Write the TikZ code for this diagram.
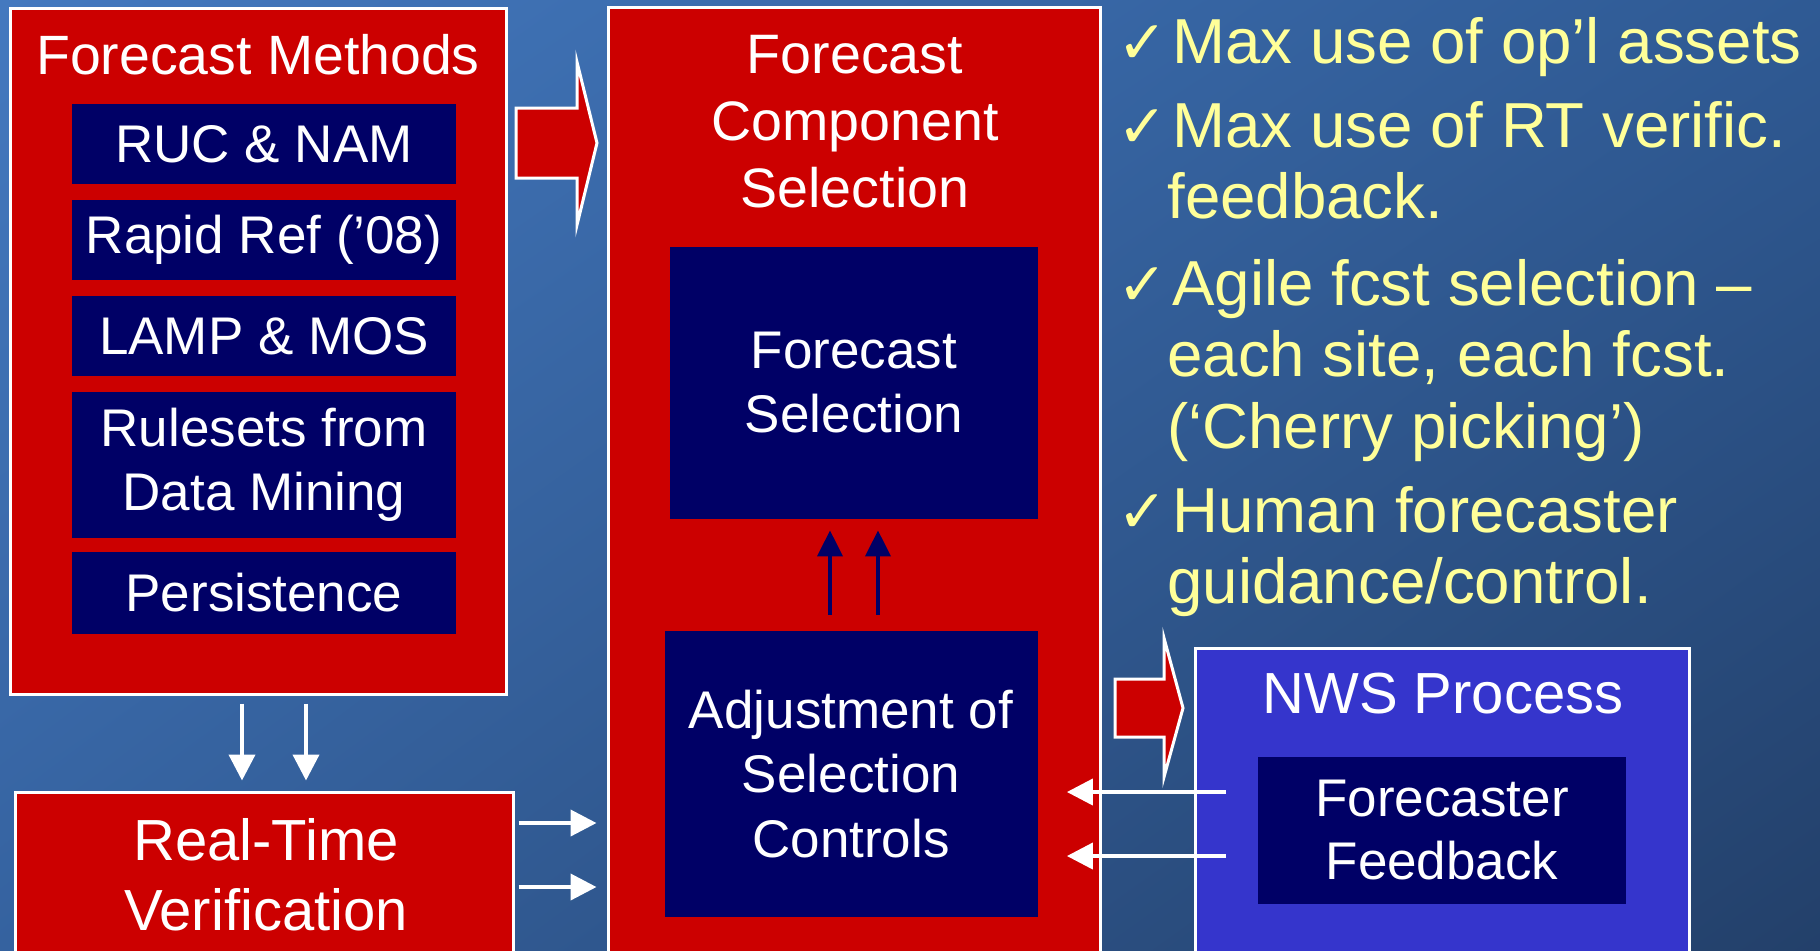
\documentclass[tikz,border=0pt]{standalone}
\usepackage{fontspec}
\setmainfont{Liberation Sans}
\newfontfamily\dejavu{DejaVu Sans}
\usetikzlibrary{arrows.meta,calc,shadings}
\definecolor{bgUL}{HTML}{4479BF}
\definecolor{bgUR}{HTML}{2F5A94}
\definecolor{bgLL}{HTML}{35629F}
\definecolor{bgLR}{HTML}{23406A}
\definecolor{boxred}{HTML}{CC0000}
\definecolor{navy}{HTML}{000066}
\definecolor{nwsblue}{HTML}{3535CC}
\definecolor{pale}{HTML}{FFFF99}
\newcommand{\fsz}[2]{\fontsize{#1}{#2}\selectfont}
\newcommand{\chk}{\makebox[24pt][r]{\dejavu\fsz{30}{30}✓\hspace{2.5pt}}}
\begin{document}
\begin{tikzpicture}[x=0.5pt,y=-0.5pt,
  outerbox/.style={draw=white,line width=1.5pt,fill=boxred,inner sep=0pt},
  nwsbox/.style={draw=white,line width=1.5pt,fill=nwsblue,inner sep=0pt},
  navybox/.style={fill=navy,inner sep=0pt,text=white,align=center},
  boxlabel/.style={text=white,align=center,inner sep=0pt},
  warr/.style={draw=white,line width=2pt,-{Triangle[length=13pt,width=13pt]}},
  narr/.style={draw=navy,line width=2pt,-{Triangle[length=13pt,width=12.5pt]}},
  blockarr/.style={draw=white,line width=1.5pt,fill=boxred,line join=miter},
  bullet/.style={text=pale,anchor=base west,inner sep=0pt,font=\fsz{31.8}{35.8}}
]
\clip (0,0) rectangle (1820,950);
\shade[upper left=bgUL,upper right=bgUR,lower left=bgLL,lower right=bgLR] (0,0) rectangle (1820,950);

% ---- Forecast Methods column
\node[outerbox,minimum width=248pt,minimum height=343pt] (fm) at (258,351) {};
\node[boxlabel,font=\fsz{27.7}{30}] (fmt) at (258,55) {Forecast Methods};
\node[navybox,minimum width=192pt,minimum height=40pt,font=\fsz{26.5}{32}] (ruc) at (264,144) {RUC \& NAM};
\node[navybox,minimum width=192pt,minimum height=40pt,font=\fsz{26.5}{32}] (rr) at (264,240) {Rapid Ref (’08)};
\node[navybox,minimum width=192pt,minimum height=40pt,font=\fsz{26.5}{32}] (lamp) at (264,336) {LAMP \& MOS};
\node[navybox,minimum width=192pt,minimum height=73pt,font=\fsz{26.5}{32}] (rule) at (264,465) {Rulesets from\\Data Mining};
\node[navybox,minimum width=192pt,minimum height=41pt,font=\fsz{26.5}{32}] (pers) at (264,593) {Persistence};

% ---- Real-Time Verification
\node[outerbox,minimum width=249pt,minimum height=90pt] (rt) at (264,882) {};
\node[boxlabel,font=\fsz{29}{35}] (rtt) at (266,875) {Real-Time\\Verification};

% ---- Forecast Component Selection
\node[outerbox,minimum width=246pt,minimum height=485pt] (fcs) at (854,492) {};
\node[boxlabel,font=\fsz{27.8}{33.5}] (fcst) at (855,122) {Forecast\\Component\\Selection};
\node[navybox,minimum width=184pt,minimum height=136pt,font=\fsz{26.5}{32}] (fsel) at (854,383) {Forecast\\Selection};
\node[navybox,minimum width=186.5pt,minimum height=143pt,font=\fsz{26.5}{32.2}] (adj) at (851,774) {Adjustment of\\Selection\\Controls};

% ---- NWS Process
\node[nwsbox,minimum width=247pt,minimum height=160pt] (nws) at (1442,808) {};
\node[boxlabel,font=\fsz{29}{33}] (nwst) at (1443,694) {NWS Process};
\node[navybox,minimum width=184pt,minimum height=73.5pt,font=\fsz{26.5}{31.5}] (ffb) at (1442,830) {Forecaster\\Feedback};

% ---- block arrows
\draw[blockarr] (516,108) -- (577,108) -- (577,62) -- (597,143) -- (577,225) -- (577,178) -- (516,178) -- cycle;
\draw[blockarr] (1115,679) -- (1164,679) -- (1164,638) -- (1183,708) -- (1164,777) -- (1164,737) -- (1115,737) -- cycle;

% ---- white arrows
\coordinate (d1) at (242,0);
\coordinate (d2) at (306,0);
\draw[warr,shorten <=4pt,shorten >=5pt] (fm.south -| d1) -- (rt.north -| d1);
\draw[warr,shorten <=4pt,shorten >=5pt] (fm.south -| d2) -- (rt.north -| d2);
\coordinate (r1) at (0,823);
\coordinate (r2) at (0,887);
\draw[warr,shorten <=2pt,shorten >=5pt] (rt.east |- r1) -- (fcs.west |- r1);
\draw[warr,shorten <=2pt,shorten >=5pt] (rt.east |- r2) -- (fcs.west |- r2);
\coordinate (l1) at (0,792);
\coordinate (l2) at (0,856);
\coordinate (ls) at (1226,0);
\draw[warr,shorten >=14.5pt] (ls |- l1) -- (adj.east |- l1);
\draw[warr,shorten >=14.5pt] (ls |- l2) -- (adj.east |- l2);

% ---- navy up arrows
\coordinate (u1) at (830,0);
\coordinate (u2) at (878,0);
\draw[narr,shorten <=8pt,shorten >=5.5pt] (adj.north -| u1) -- (fsel.south -| u1);
\draw[narr,shorten <=8pt,shorten >=5.5pt] (adj.north -| u2) -- (fsel.south -| u2);

% ---- bullets
\node[bullet] (b1) at (1124,63) {\chk Max use of op’l assets};
\node[bullet] (b2) at (1124,147) {\begin{tabular}[t]{@{}l@{}}\chk Max use of RT verific.\\\hspace*{21.5pt}feedback.\end{tabular}};
\node[bullet] (b3) at (1124,305) {\begin{tabular}[t]{@{}l@{}}\chk Agile fcst selection –\\\hspace*{21.5pt}each site, each fcst.\\\hspace*{21.5pt}(‘Cherry picking’)\end{tabular}};
\node[bullet] (b4) at (1124,532) {\begin{tabular}[t]{@{}l@{}}\chk Human forecaster\\\hspace*{21.5pt}guidance/control.\end{tabular}};
\end{tikzpicture}
\end{document}
